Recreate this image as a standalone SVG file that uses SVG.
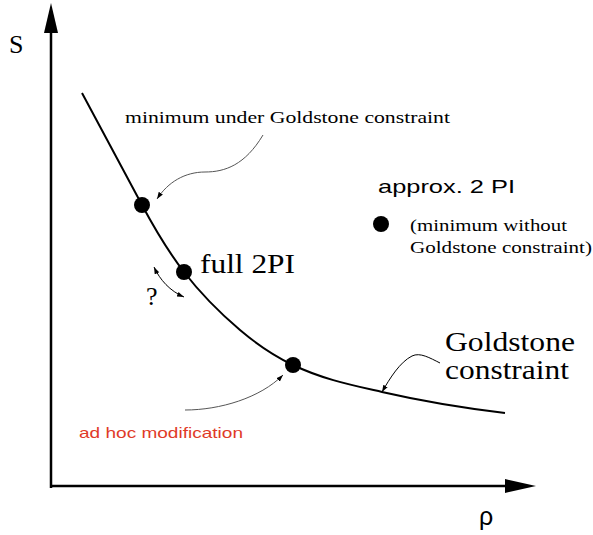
<svg xmlns="http://www.w3.org/2000/svg" width="593" height="535" viewBox="0 0 593 535">
<style>
.serif{font-family:"Liberation Serif","Times New Roman",serif;fill:#000}
.sans{font-family:"Liberation Sans",Arial,sans-serif}
.thin{fill:none;stroke:#555;stroke-width:1}
.dot{fill:#000}
</style>
<defs>
<marker id="ah" viewBox="0 0 10 10" refX="10" refY="5" markerWidth="7" markerHeight="7" markerUnits="userSpaceOnUse" orient="auto-start-reverse"><path d="M0,1.5 L10,5 L0,8.5 Z" fill="#000"/></marker>
</defs>
<rect width="593" height="535" fill="#fff"/>
<g id="axes">
<line x1="51" y1="488" x2="51" y2="30" stroke="#000" stroke-width="2.5"/>
<polygon points="51,3 44,33 58,33" fill="#000"/>
<line x1="50" y1="486" x2="510" y2="486" stroke="#000" stroke-width="2.5"/>
<polygon points="536,486 505,479 505,493" fill="#000"/>
<text class="serif" x="9" y="53" font-size="26">S</text>
<text class="sans" x="479" y="525" font-size="25" fill="#000">ρ</text>
</g>
<g id="curve">
<path d="M82,93 L142,205 C156,231.2 170,253.8 184,272 C202.7,296.3 221.3,314.1 240,330 C257.7,345 275.3,356.5 293,365 C322.7,379.3 352.3,385.2 382,392 C423,401.4 464,408.1 505,413" fill="none" stroke="#000" stroke-width="2"/>
</g>
<g id="connectors">
<path class="thin" d="M263,135 C245,165 225,172 205,172 C185,172 168,182 157,199" marker-end="url(#ah)"/>
<path d="M154,267 C160,280 170,291 184,297" fill="none" stroke="#000" stroke-width="1" marker-start="url(#ah)" marker-end="url(#ah)"/>
<path class="thin" d="M185,410 C220,410 260,398 283,375" marker-end="url(#ah)"/>
<path d="M440,363 C430,358 420,352 412,356 C400,362 390,378 382,392" fill="none" stroke="#000" stroke-width="1" marker-end="url(#ah)"/>
</g>
<g id="min-goldstone">
<circle class="dot" cx="142" cy="205" r="8"/>
<text class="serif" x="125" y="123" font-size="17" textLength="325" lengthAdjust="spacingAndGlyphs">minimum  under Goldstone constraint</text>
</g>
<g id="full-2pi">
<circle class="dot" cx="184" cy="272" r="8"/>
<text class="serif" x="200" y="273" font-size="27" textLength="95" lengthAdjust="spacingAndGlyphs">full 2PI</text>
<text class="serif" x="146" y="305" font-size="26">?</text>
</g>
<g id="ad-hoc">
<circle class="dot" cx="293" cy="365" r="8"/>
<text class="sans" x="79" y="438" font-size="15" fill="#e03a28" textLength="164" lengthAdjust="spacingAndGlyphs">ad hoc modification</text>
</g>
<g id="approx-2pi">
<text class="sans" x="378" y="193" font-size="18.5" fill="#000" textLength="137" lengthAdjust="spacingAndGlyphs">approx. 2 PI</text>
<circle class="dot" cx="381" cy="224" r="8"/>
<text class="serif" x="410" y="231" font-size="17" textLength="157" lengthAdjust="spacingAndGlyphs">(minimum without</text>
<text class="serif" x="410" y="253" font-size="17" textLength="182" lengthAdjust="spacingAndGlyphs">Goldstone constraint)</text>
</g>
<g id="goldstone-label">
<text class="serif" x="445" y="351" font-size="27.5" textLength="130" lengthAdjust="spacingAndGlyphs">Goldstone</text>
<text class="serif" x="445" y="379" font-size="27.5" textLength="124" lengthAdjust="spacingAndGlyphs">constraint</text>
</g>
</svg>
